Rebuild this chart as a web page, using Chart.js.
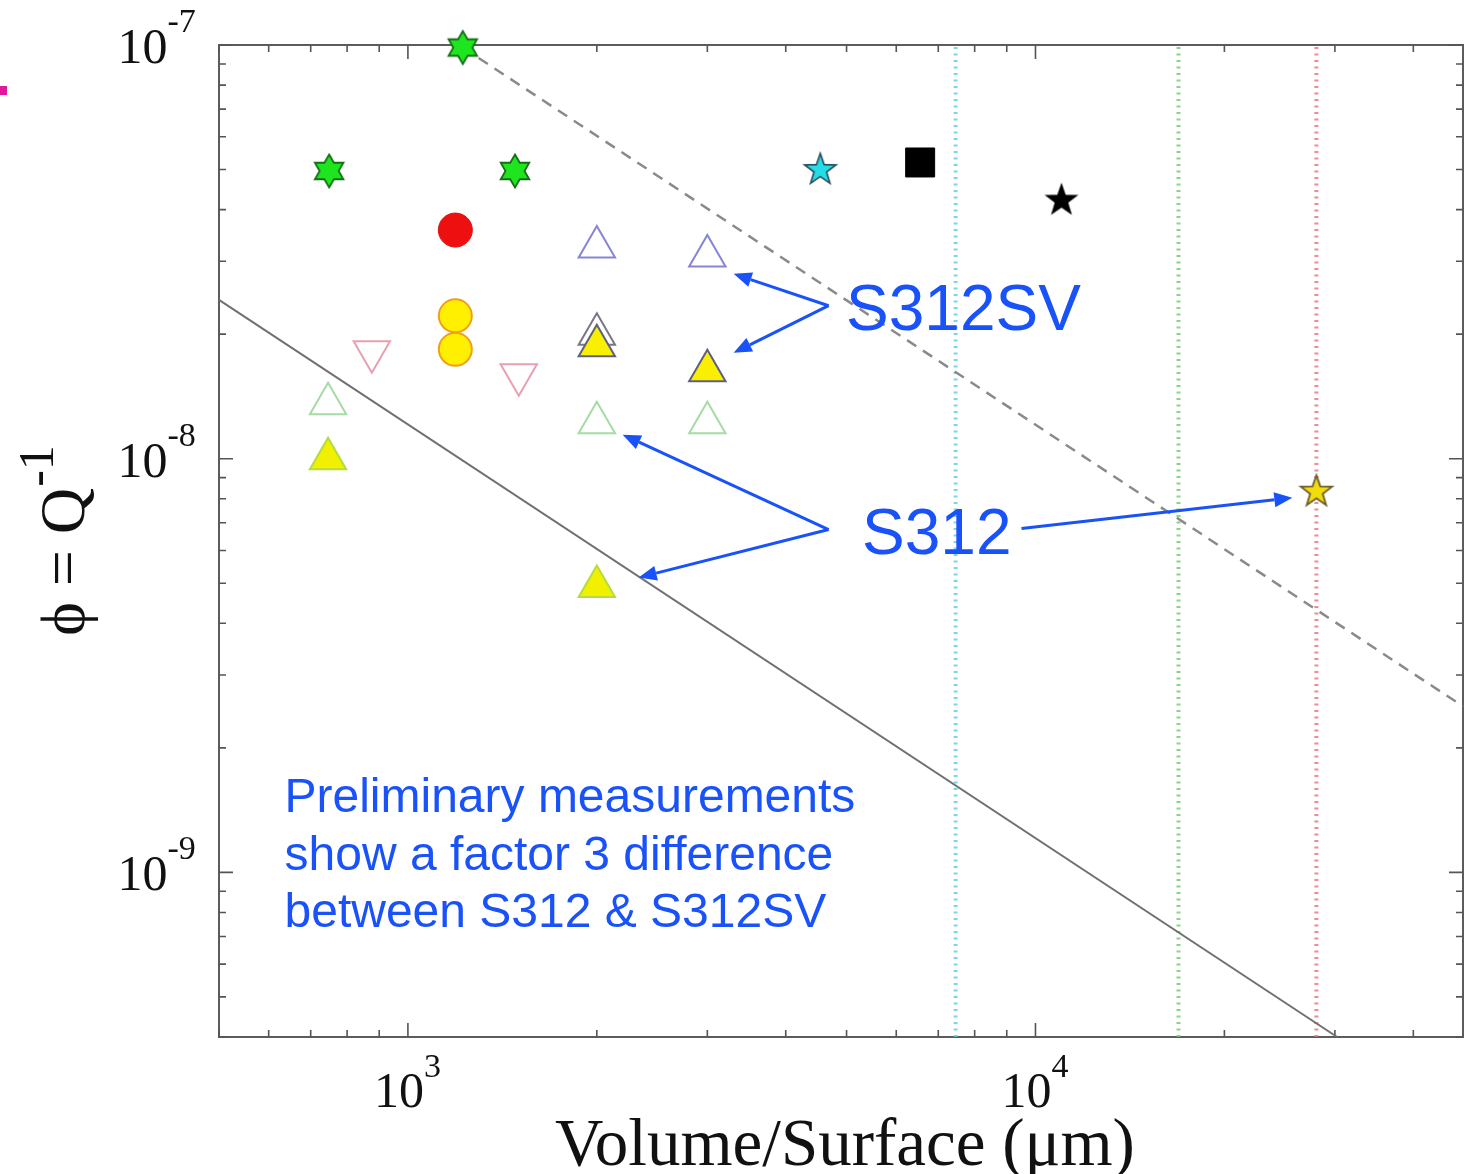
<!DOCTYPE html>
<html><head><meta charset="utf-8">
<script src="https://cdn.jsdelivr.net/npm/chart.js@4.4.0/dist/chart.umd.min.js"></script>
<style>html,body{margin:0;padding:0;background:#fff;overflow:hidden}canvas{display:block}</style>
</head><body>
<canvas id="c" width="1467" height="1174"></canvas>
<script>
// ---------------- data ----------------
const xRange = [500, 48000];
const yRange = [4e-10, 1e-7];
const xMajorTicks = [1000, 10000];
const xTickExponents = ['3', '4'];
const yMajorTicks = [1e-7, 1e-8, 1e-9];
const yTickExponents = ['-7', '-8', '-9'];

const greenStarX = [749, 1223, 1481];
const greenStarY = [4.96e-8, 9.86e-8, 4.96e-8];
const cyanStarX = [4540];
const cyanStarY = [4.99e-8];
const blackSquareX = [6550];
const blackSquareY = [5.20e-8];
const blackStarX = [11000];
const blackStarY = [4.21e-8];
const redCircleX = [1190];
const redCircleY = [3.57e-8];
const yellowCircleX = [1190, 1190];
const yellowCircleY = [2.215e-8, 1.838e-8];
const blueOpenTriX = [2000, 3000];
const blueOpenTriY = [3.25e-8, 3.09e-8];
const grayOpenTriX = [2000];
const grayOpenTriY = [2.0e-8];
const yellowTriSVX = [2000, 3000];
const yellowTriSVY = [1.875e-8, 1.632e-8];
const pinkInvTriX = [876, 1502];
const pinkInvTriY = [1.814e-8, 1.596e-8];
const greenOpenTriX = [746, 2000, 3000];
const greenOpenTriY = [1.358e-8, 1.222e-8, 1.222e-8];
const yellowTriX = [746, 2000];
const yellowTriY = [1.0e-8, 4.91e-9];
const yellowStarX = [28030];
const yellowStarY = [8.32e-9];

const solidLineX = [500, 30250];
const solidLineY = [2.42e-8, 4.0e-10];
const dashedLineX = [1223, 48000];
const dashedLineY = [9.86e-8, 2.52e-9];
const cyanLimitX = [7460, 7460];
const greenLimitX = [16900, 16900];
const redLimitX = [28030, 28030];
const limitY = [4e-10, 1e-7];

// arrows (data coordinates: from -> to)
const arrowFromX = [4681, 4681, 4681, 4681, 9500];
const arrowFromY = [2.343e-8, 2.343e-8, 6.74e-9, 6.74e-9, 6.78e-9];
const arrowToX = [3304, 3304, 2199, 2332, 25660];
const arrowToY = [2.798e-8, 1.803e-8, 1.143e-8, 5.16e-9, 8.05e-9];

const xTitle = 'Volume/Surface (\u03bcm)';
const yTitleMain = '\u03d5 = Q';
const yTitleSup = '-1';
const labelSV = 'S312SV';
const labelS = 'S312';
const noteLines = ['Preliminary measurements', 'show a factor 3 difference', 'between S312 & S312SV'];

// ---------------- styling ----------------
const SERIF = '"Liberation Serif","Times New Roman","DejaVu Serif",serif';
const SANS = '"Liberation Sans",Arial,Helvetica,sans-serif';
const BLUE = '#1a52fa';

function makeStarImg(points, R, ratio, fill, stroke, lw) {
  const size = 2 * Math.ceil(R + lw + 2);
  const cv = document.createElement('canvas');
  cv.width = size; cv.height = size;
  const g = cv.getContext('2d');
  const c = size / 2;
  g.beginPath();
  for (let i = 0; i < points * 2; i++) {
    const a = -Math.PI / 2 + i * Math.PI / points;
    const rr = i % 2 === 0 ? R : R * ratio;
    const px = c + rr * Math.cos(a), py = c + rr * Math.sin(a);
    if (i === 0) g.moveTo(px, py); else g.lineTo(px, py);
  }
  g.closePath();
  g.fillStyle = fill; g.fill();
  g.lineWidth = lw; g.strokeStyle = stroke; g.lineJoin = 'miter'; g.stroke();
  return cv;
}

const hexGreen = makeStarImg(6, 16.5, 0.5774, '#1ee61e', '#166e16', 1.8);
const starCyan = makeStarImg(5, 16.5, 0.40, '#22dce6', '#2a4a5a', 1.6);
const starBlack = makeStarImg(5, 16, 0.40, '#000000', '#000000', 1.2);
const starYellow = makeStarImg(5, 16.5, 0.40, '#f2dc0a', '#6a5a30', 1.8);

function pts(xs, ys) { return xs.map((v, i) => ({ x: v, y: ys[i] })); }

function markers(label, xs, ys, o) {
  return {
    label, data: pts(xs, ys), showLine: false, clip: false,
    pointStyle: o.style, pointRadius: o.r, pointRotation: o.rot || 0,
    pointBackgroundColor: o.fill, pointBorderColor: o.stroke,
    pointBorderWidth: o.lw === undefined ? 2 : o.lw,
    pointHoverRadius: o.r
  };
}
function lineSet(label, xs, ys, color, width, dash) {
  return {
    label, data: pts(xs, ys), showLine: true, clip: false, tension: 0,
    borderColor: color, borderWidth: width, borderDash: dash || [],
    pointRadius: 0, pointHoverRadius: 0, fill: false
  };
}

const datasets = [
  markers('S312SV filled', yellowTriSVX, yellowTriSVY, { style: 'triangle', r: 21, fill: '#f8f000', stroke: '#5f5f80', lw: 2 }),
  markers('open gray', grayOpenTriX, grayOpenTriY, { style: 'triangle', r: 21, fill: 'rgba(0,0,0,0)', stroke: '#77778a', lw: 2 }),
  markers('S312 filled', yellowTriX, yellowTriY, { style: 'triangle', r: 21, fill: '#f0f000', stroke: '#b4dc40', lw: 2 }),
  markers('open green', greenOpenTriX, greenOpenTriY, { style: 'triangle', r: 21, fill: 'rgba(0,0,0,0)', stroke: '#a4dca4', lw: 2 }),
  markers('open blue', blueOpenTriX, blueOpenTriY, { style: 'triangle', r: 21, fill: 'rgba(0,0,0,0)', stroke: '#8585d5', lw: 2 }),
  markers('open pink', pinkInvTriX, pinkInvTriY, { style: 'triangle', r: 21, rot: 180, fill: 'rgba(0,0,0,0)', stroke: '#e8a0b0', lw: 2 }),
  markers('yellow circles', yellowCircleX, yellowCircleY, { style: 'circle', r: 16.5, fill: '#fff000', stroke: '#f0a018', lw: 2 }),
  markers('red circle', redCircleX, redCircleY, { style: 'circle', r: 17, fill: '#ee1010', stroke: '#e01010', lw: 1 }),
  markers('green stars', greenStarX, greenStarY, { style: hexGreen, r: 16 }),
  markers('cyan star', cyanStarX, cyanStarY, { style: starCyan, r: 16 }),
  markers('black square', blackSquareX, blackSquareY, { style: 'rect', r: 20.5, fill: '#000', stroke: '#000', lw: 1 }),
  markers('black star', blackStarX, blackStarY, { style: starBlack, r: 16 }),
  markers('yellow star', yellowStarX, yellowStarY, { style: starYellow, r: 16 }),
  lineSet('solid', solidLineX, solidLineY, '#707070', 2),
  lineSet('dashed', dashedLineX, dashedLineY, '#8a8a8a', 2.5, [11, 8]),
  lineSet('cyan limit', cyanLimitX, limitY, 'rgba(90,205,225,0.8)', 4, [2, 4.5]),
  lineSet('green limit', greenLimitX, limitY, 'rgba(110,200,110,0.8)', 4, [2, 4.5]),
  lineSet('red limit', redLimitX, limitY, 'rgba(232,110,122,0.8)', 4, [2, 4.5])
];

function drawArrow(ctx, x1, y1, x2, y2) {
  const ang = Math.atan2(y2 - y1, x2 - x1);
  const L = 18, W = 7.5;
  const bx = x2 - L * Math.cos(ang), by = y2 - L * Math.sin(ang);
  ctx.beginPath(); ctx.moveTo(x1, y1); ctx.lineTo(bx, by); ctx.stroke();
  ctx.beginPath();
  ctx.moveTo(x2, y2);
  ctx.lineTo(bx + W * Math.sin(ang), by - W * Math.cos(ang));
  ctx.lineTo(bx - W * Math.sin(ang), by + W * Math.cos(ang));
  ctx.closePath(); ctx.fill();
}

const framePlugin = {
  id: 'frame',
  beforeDatasetsDraw(chart) {
    const { ctx, chartArea: a, scales: { x, y } } = chart;
    ctx.save();
    ctx.fillStyle = '#e0189a';
    ctx.fillRect(0, 86, 7, 9);
    ctx.strokeStyle = '#5c5c5c'; ctx.lineWidth = 2;
    ctx.strokeRect(a.left, a.top, a.right - a.left, a.bottom - a.top);
    ctx.lineWidth = 1.6; ctx.strokeStyle = '#555';
    ctx.beginPath();
    for (let d = 2; d <= 5; d++) {
      for (let m = 1; m <= 9; m++) {
        const v = m * Math.pow(10, d);
        if (v < xRange[0] * 0.999 || v > xRange[1] * 1.001) continue;
        const px = x.getPixelForValue(v);
        const len = m === 1 ? 14 : 7;
        ctx.moveTo(px, a.bottom); ctx.lineTo(px, a.bottom - len);
        ctx.moveTo(px, a.top); ctx.lineTo(px, a.top + len);
      }
    }
    for (let d = -11; d <= -7; d++) {
      for (let m = 1; m <= 9; m++) {
        const v = m * Math.pow(10, d);
        if (v < yRange[0] * 0.999 || v > yRange[1] * 1.001) continue;
        const py = y.getPixelForValue(v);
        const len = m === 1 ? 14 : 7;
        ctx.moveTo(a.left, py); ctx.lineTo(a.left + len, py);
        ctx.moveTo(a.right, py); ctx.lineTo(a.right - len, py);
      }
    }
    ctx.stroke();
    ctx.restore();
  },
  afterDatasetsDraw(chart) {
    const { ctx, chartArea: a, scales: { x, y } } = chart;
    ctx.save();
    ctx.fillStyle = '#111';
    ctx.textBaseline = 'alphabetic';
    // x tick labels
    xMajorTicks.forEach((v, i) => {
      const px = x.getPixelForValue(v);
      ctx.font = '50px ' + SERIF; ctx.textAlign = 'center';
      ctx.fillText('10', px - 9, a.bottom + 70);
      ctx.font = '34px ' + SERIF; ctx.textAlign = 'left';
      ctx.fillText(xTickExponents[i], px + 16, a.bottom + 40);
    });
    // y tick labels
    yMajorTicks.forEach((v, i) => {
      const py = y.getPixelForValue(v);
      ctx.font = '50px ' + SERIF; ctx.textAlign = 'left';
      ctx.fillText('10', a.left - 101.5, py + 18);
      ctx.font = '34px ' + SERIF;
      ctx.fillText(yTickExponents[i], a.left - 51.5, py - 13);
    });
    // x title
    ctx.font = '67px ' + SERIF; ctx.textAlign = 'center';
    ctx.fillText(xTitle, 845, a.bottom + 128);
    // y title (rotated)
    ctx.save();
    ctx.translate(84, 0);
    ctx.rotate(-Math.PI / 2);
    ctx.textAlign = 'left';
    ctx.font = '64px ' + SERIF;
    const w1 = ctx.measureText(yTitleMain).width;
    ctx.font = '50px ' + SERIF;
    const w2 = ctx.measureText(yTitleSup).width;
    const cy = (a.top + a.bottom) / 2;
    const u0 = -(cy + (w1 + w2) / 2);
    ctx.font = '64px ' + SERIF;
    ctx.fillText(yTitleMain, u0, 0);
    ctx.font = '50px ' + SERIF;
    ctx.fillText(yTitleSup, u0 + w1 + 1, -31);
    ctx.restore();

    // annotations
    ctx.fillStyle = BLUE; ctx.strokeStyle = BLUE; ctx.lineWidth = 3;
    for (let i = 0; i < arrowFromX.length; i++) {
      drawArrow(ctx,
        x.getPixelForValue(arrowFromX[i]), y.getPixelForValue(arrowFromY[i]),
        x.getPixelForValue(arrowToX[i]), y.getPixelForValue(arrowToY[i]));
    }
    ctx.textAlign = 'left';
    ctx.font = '64px ' + SANS;
    ctx.fillText(labelSV, 846, 330);
    ctx.fillText(labelS, 862, 554);
    ctx.font = '48px ' + SANS;
    noteLines.forEach((t, i) => ctx.fillText(t, 284.5, 812 + i * 57.5));
    ctx.restore();
  }
};

new Chart(document.getElementById('c'), {
  type: 'scatter',
  data: { datasets },
  options: {
    responsive: false,
    animation: false,
    events: [],
    layout: { autoPadding: false, padding: { left: 219, top: 45, right: 4, bottom: 137 } },
    plugins: { legend: { display: false }, tooltip: { enabled: false }, title: { display: false } },
    scales: {
      x: { type: 'logarithmic', min: xRange[0], max: xRange[1], display: false },
      y: { type: 'logarithmic', min: yRange[0], max: yRange[1], display: false }
    }
  },
  plugins: [framePlugin]
});
</script>
</body></html>
